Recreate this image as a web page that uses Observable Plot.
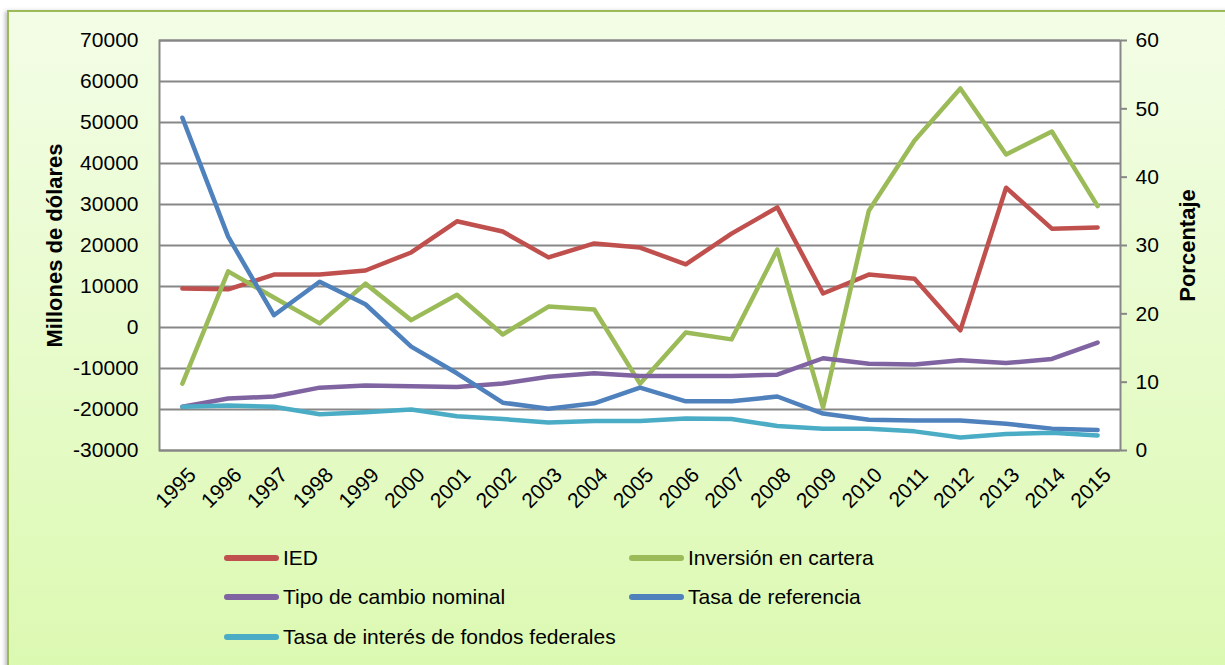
<!DOCTYPE html>
<html>
<head>
<meta charset="utf-8">
<script src="https://cdn.jsdelivr.net/npm/d3@7"></script>
<script src="https://cdn.jsdelivr.net/npm/@observablehq/plot@0.6"></script>
<style>
  html, body { margin: 0; padding: 0; width: 1225px; height: 665px; overflow: hidden; background: #ffffff; font-family: "Liberation Sans", Arial, sans-serif; }
  #frame { position: absolute; left: 7px; top: 10px; width: 1240px; height: 680px; box-sizing: border-box;
    border: 2px solid #9bbb59; background: linear-gradient(#f3fde6, #dbf9b0); box-shadow: -2px 1px 4px rgba(0,0,0,0.25); }
  #chart { position: absolute; left: 0; top: 0; }
  #legend { position: absolute; left: 224px; top: 538px; display: grid; grid-template-columns: 405px 320px; grid-auto-rows: 39.5px; font-size: 21px; color: #000; }
  .item { display: flex; align-items: center; white-space: nowrap; }
  .sw { width: 55px; height: 6px; border-radius: 3px; margin-right: 4px; }
</style>
</head>
<body>
<div id="frame"></div>
<div id="chart"></div>
<div id="legend"></div>
<script>
const years = [1995,1996,1997,1998,1999,2000,2001,2002,2003,2004,2005,2006,2007,2008,2009,2010,2011,2012,2013,2014,2015];
// Left axis (Millones de dólares)
const ied = [9500, 9300, 12900, 12900, 13900, 18300, 25900, 23400, 17100, 20500, 19500, 15400, 22900, 29300, 8300, 12900, 11900, -700, 34100, 24100, 24400];
const cartera = [-13700, 13700, 7300, 1000, 10700, 1800, 8000, -1700, 5100, 4400, -13700, -1200, -2900, 19000, -19500, 28500, 45600, 58300, 42200, 47800, 29600];
// Right axis (Porcentaje)
const tipoCambio = [6.4, 7.6, 7.9, 9.2, 9.5, 9.4, 9.3, 9.8, 10.8, 11.3, 10.9, 10.9, 10.9, 11.1, 13.5, 12.7, 12.6, 13.2, 12.8, 13.4, 15.8];
const tasaReferencia = [48.7, 31.3, 19.8, 24.7, 21.4, 15.2, 11.3, 7.0, 6.1, 6.9, 9.2, 7.2, 7.2, 7.9, 5.4, 4.5, 4.4, 4.4, 3.9, 3.2, 3.0];
const tasaFondos = [6.4, 6.6, 6.4, 5.3, 5.6, 6.0, 5.0, 4.6, 4.1, 4.3, 4.3, 4.7, 4.6, 3.6, 3.2, 3.2, 2.8, 1.9, 2.4, 2.6, 2.2];

const leftTicks = [-30000,-20000,-10000,0,10000,20000,30000,40000,50000,60000,70000];
const rightTicks = [0,10,20,30,40,50,60];
const leftDomain = [-30000, 70000];
const rightDomain = [0, 60];

const seriesNames = ["IED","Inversión en cartera","Tipo de cambio nominal","Tasa de referencia","Tasa de interés de fondos federales"];
const seriesColors = ["#c0504d","#9bbb59","#8064a2","#4f81bd","#4bacc6"];
const seriesAxis = ["left","left","right","right","right"];
const seriesValues = [ied, cartera, tipoCambio, tasaReferencia, tasaFondos];

// map a right-axis value into the left-axis scale domain
const toLeft = v => leftDomain[0] + (v - rightDomain[0]) * (leftDomain[1] - leftDomain[0]) / (rightDomain[1] - rightDomain[0]);
const fromLeft = v => rightDomain[0] + (v - leftDomain[0]) * (rightDomain[1] - rightDomain[0]) / (leftDomain[1] - leftDomain[0]);

const rows = [];
seriesNames.forEach((name, i) => {
  years.forEach((yr, j) => rows.push({series: name, year: yr, value: seriesValues[i][j], axis: seriesAxis[i]}));
});

const lineMarks = seriesNames.map((name, i) =>
  Plot.line(rows.filter(r => r.series === name), {
    x: "year",
    y: r => r.axis === "right" ? toLeft(r.value) : r.value,
    stroke: seriesColors[i], strokeWidth: 4.5, strokeLinejoin: "round", strokeLinecap: "round"
  })
);

const chart = Plot.plot({
  width: 1225, height: 520,
  marginLeft: 159, marginRight: 105, marginTop: 40, marginBottom: 70,
  style: {fontFamily: "'Liberation Sans', Arial, sans-serif", fontSize: "21px", background: "transparent", color: "#000", overflow: "visible"},
  x: {type: "point", domain: years, padding: 0.5, round: false},
  y: {domain: leftDomain},
  marks: [
    Plot.frame({fill: "white"}),
    Plot.ruleY(leftTicks, {stroke: "#878787", strokeWidth: 2}),
    Plot.frame({stroke: "#878787", strokeWidth: 2}),
    ...lineMarks,
    Plot.axisY(leftTicks, {anchor: "left", tickSize: 0, tickPadding: 21, label: null, fontSize: 21, tickFormat: d => String(d)}),
    Plot.axisY(rightTicks.map(toLeft), {anchor: "right", tickSize: 6, tickPadding: 9, stroke: "#878787", strokeWidth: 2,
      tickFormat: d => String(Math.round(fromLeft(d))), label: null, fontSize: 21}),
    Plot.axisX(years, {anchor: "bottom", tickSize: 0, tickPadding: 14, tickRotate: -45, label: null, fontSize: 21, dx: 10, dy: 7, tickFormat: d => String(d)}),
    Plot.text(["Millones de dólares"], {text: d => d, frameAnchor: "left", textAnchor: "middle", dx: -105, rotate: -90, fontWeight: "bold", fontSize: 22}),
    Plot.text(["Porcentaje"], {text: d => d, frameAnchor: "right", textAnchor: "middle", dx: 67, rotate: -90, fontWeight: "bold", fontSize: 22})
  ]
});
document.getElementById("chart").appendChild(chart);

const legend = document.getElementById("legend");
[0,1,2,3,4].forEach(i => {
  const it = document.createElement("div");
  it.className = "item";
  it.innerHTML = `<span class="sw" style="background:${seriesColors[i]}"></span><span>${seriesNames[i]}</span>`;
  legend.appendChild(it);
});
</script>
</body>
</html>
